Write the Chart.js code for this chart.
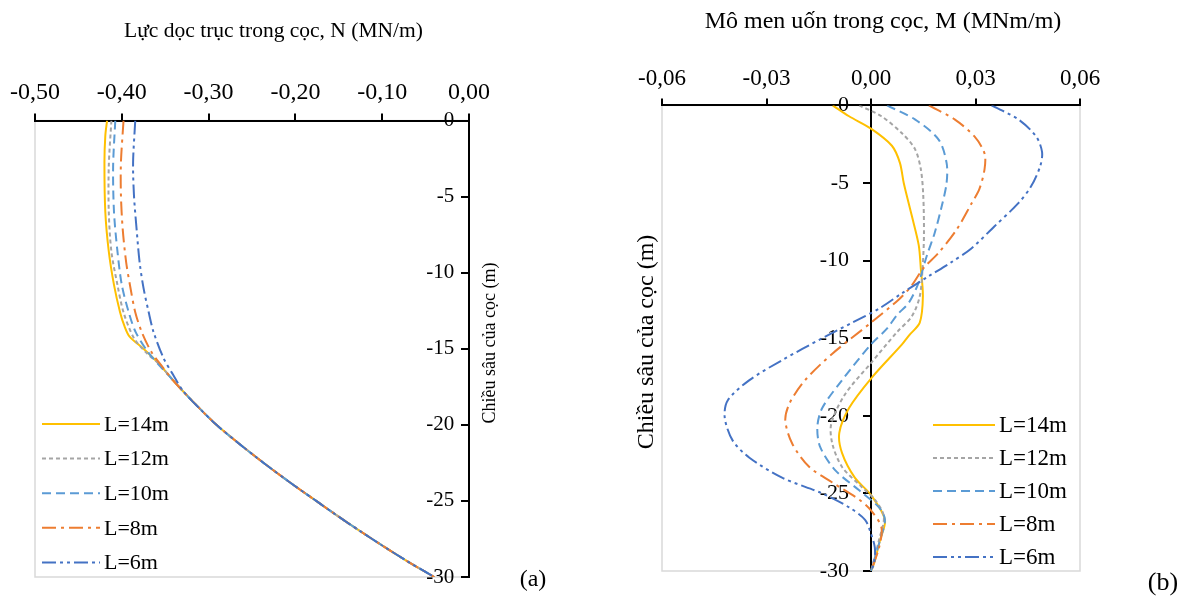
<!DOCTYPE html>
<html><head><meta charset="utf-8">
<script src="https://cdn.jsdelivr.net/npm/chart.js@4.4.0/dist/chart.umd.min.js"></script>
<style>
html,body{margin:0;padding:0;background:#fff;}
#wrap{position:relative;width:1186px;height:597px;overflow:hidden;}
#c1{position:absolute;left:0;top:0;}
#c2{position:absolute;left:593px;top:0;}
</style></head><body>
<div id="wrap"><canvas id="c1" width="593" height="597"></canvas><canvas id="c2" width="593" height="597"></canvas></div>
<script>
// ---------- labels ----------
const seriesLabels = ['L=14m', 'L=12m', 'L=10m', 'L=8m', 'L=6m'];
const titleN = 'Lực dọc trục trong cọc, N (MN/m)';
const titleM = 'Mô men uốn trong cọc, M (MNm/m)';
const titleDepth = 'Chiều sâu của cọc (m)';
const depthTicks = [0, -5, -10, -15, -20, -25, -30];
const nTicks = [-0.5, -0.4, -0.3, -0.2, -0.1, 0];
const mTicks = [-0.06, -0.03, 0, 0.03, 0.06];

// ---------- (a) axial force N: common lower part ----------
const nTailDepth = [-16, -17, -18, -19, -20, -21, -22, -23, -24, -25, -26, -27, -28, -29, -30];
const nTailValue = [-0.357, -0.342, -0.326, -0.309, -0.291, -0.270, -0.248, -0.225, -0.201, -0.176, -0.151, -0.125, -0.098, -0.070, -0.040];

const nDepth14 = [0, -1, -2.75, -6, -8.6, -10.8, -12.6, -13.5, -14.2, -15];
const nValue14 = [-0.417, -0.419, -0.420, -0.419, -0.415, -0.409, -0.402, -0.397, -0.391, -0.375];
const nDepth12 = [0, -3, -6, -8.6, -10.8, -12.6, -14.3, -15.3];
const nValue12 = [-0.412, -0.415, -0.415, -0.412, -0.405, -0.398, -0.386, -0.371];
const nDepth10 = [0, -3, -6, -8.6, -10.8, -12.6, -13.9, -15.2, -16.2];
const nValue10 = [-0.4075, -0.410, -0.409, -0.405, -0.400, -0.392, -0.384, -0.370, -0.355];
const nDepth8 = [0, -2.75, -4.9, -7.1, -9.3, -11, -12.6, -13.9, -15.2, -16.2];
const nValue8 = [-0.398, -0.401, -0.401, -0.399, -0.395, -0.390, -0.3845, -0.377, -0.366, -0.353];
const nDepth6 = [0, -2.75, -4.9, -7.1, -9.3, -11, -12.6, -13.9, -15.6, -16.6, -17.8];
const nValue6 = [-0.3845, -0.387, -0.386, -0.383, -0.3795, -0.375, -0.369, -0.3634, -0.352, -0.342, -0.329];

// ---------- (b) bending moment M ----------
const mDepth14 = [0, -0.7, -1.5, -2.6, -3.7, -5, -7.1, -9, -10.5, -12.3, -14, -14.8, -15.4, -17.6, -19.5, -21.1, -22.4, -24, -25.1, -26.7, -28, -29.5, -30];
const mValue14 = [-0.011, -0.0063, 0, 0.006, 0.0083, 0.0094, 0.0117, 0.0137, 0.0143, 0.0149, 0.014, 0.011, 0.0089, 0, -0.0063, -0.0091, -0.0083, -0.0046, 0, 0.004, 0.0026, 0.0009, 0];
const mDepth12 = [0, -0.7, -1.8, -2.8, -4.1, -5.8, -8.4, -10.5, -12.3, -13.6, -14.6, -16.6, -18.6, -20.5, -21.8, -23.3, -24.6, -25.4, -26.5, -28, -29.5, -30];
const mValue12 = [-0.0034, 0.003, 0.0089, 0.0126, 0.0143, 0.015, 0.0152, 0.0148, 0.014, 0.0117, 0.0075, 0, -0.0074, -0.0114, -0.0111, -0.0083, -0.0026, 0.0011, 0.0037, 0.0023, 0.0006, 0];
const mDepth10 = [0, -0.9, -2.2, -3.7, -5, -6.5, -8.2, -9.7, -11.4, -12.7, -13.5, -14.4, -15.4, -17.7, -19.5, -20.7, -22, -23.5, -24.8, -25.9, -26.7, -28, -29.3, -30];
const mValue10 = [0.0046, 0.0126, 0.0194, 0.0217, 0.0217, 0.0203, 0.0183, 0.016, 0.0137, 0.0109, 0.0075, 0.0045, 0, -0.0083, -0.014, -0.0154, -0.0146, -0.0103, -0.0034, 0.0023, 0.004, 0.0026, 0.0009, 0];
const mDepth8 = [0, -0.9, -2, -3.1, -4.1, -5.4, -6.3, -8, -9.5, -10.5, -11.6, -12.5, -14, -16, -17.7, -19.2, -20.3, -21.8, -23.3, -24.3, -25.4, -26.1, -27.2, -28.5, -30];
const mValue8 = [0.0166, 0.024, 0.0297, 0.0326, 0.0326, 0.0311, 0.0289, 0.0246, 0.0194, 0.015, 0.0117, 0.008, 0, -0.0111, -0.0189, -0.0234, -0.0246, -0.0226, -0.0177, -0.0111, -0.0034, 0, 0.003, 0.0023, 0];
const mDepth6 = [0, -0.9, -2, -3, -3.9, -5.2, -6.3, -7.8, -9.2, -10.1, -11, -12.1, -13.1, -14, -15, -16.4, -17.7, -19, -20.1, -21.6, -22.7, -24, -25, -25.9, -26.7, -27.6, -28.5, -29.5, -30];
const mValue6 = [0.0346, 0.0423, 0.0474, 0.0491, 0.0486, 0.046, 0.0423, 0.0354, 0.0289, 0.0231, 0.0166, 0.0089, 0.0023, -0.0054, -0.014, -0.0254, -0.0349, -0.0411, -0.042, -0.0397, -0.0349, -0.0254, -0.014, -0.0063, -0.0017, 0, 0.0011, 0.0009, 0];

// ---------- styles ----------
const colors = ['#FFC000', '#A5A5A5', '#5B9BD5', '#ED7D31', '#4472C4'];
const dashes = [[], [4, 3], [9, 5], [14, 5, 3, 5], [14, 4, 3, 4, 3, 4]];
const FONT = "'Liberation Serif', 'Times New Roman', serif";

function pts(xs, ys) { return xs.map((x, i) => ({ x: x, y: ys[i] })); }
function withTail(head, headVal, fromDepth) {
  const i = nTailDepth.indexOf(fromDepth);
  return [head.concat(nTailDepth.slice(i)), headVal.concat(nTailValue.slice(i))];
}
function mkSets(list) {
  return list.map((s, i) => ({
    label: seriesLabels[i], data: pts(s[1], s[0]), borderColor: colors[i], backgroundColor: colors[i],
    borderDash: dashes[i], borderWidth: 2, pointRadius: 0, showLine: true, tension: 0.3, fill: false,
    order: 5 - i
  }));
}

const decoPlugin = {
  id: 'deco',
  beforeDraw(chart, args, o) {
    const a = chart.chartArea, ctx = chart.ctx;
    ctx.save();
    ctx.strokeStyle = '#D9D9D9'; ctx.lineWidth = 1.5;
    ctx.strokeRect(a.left, a.top, a.right - a.left, a.bottom - a.top);
    ctx.restore();
  },
  afterDraw(chart, args, o) {
    const ctx = chart.ctx;
    ctx.save();
    // legend
    chart.data.datasets.forEach((ds, i) => {
      const y = o.legY + i * o.legGap;
      ctx.strokeStyle = ds.borderColor; ctx.lineWidth = 2; ctx.setLineDash(ds.borderDash);
      ctx.beginPath(); ctx.moveTo(o.legX0, y); ctx.lineTo(o.legX1, y); ctx.stroke();
      ctx.setLineDash([]);
      ctx.fillStyle = '#000'; ctx.font = o.legFont + 'px ' + FONT;
      ctx.textAlign = 'left'; ctx.textBaseline = 'middle';
      ctx.fillText(ds.label, o.legX1 + 4, y + 1);
    });
    // y title
    ctx.translate(o.ytX, o.ytY); ctx.rotate(-Math.PI / 2);
    ctx.fillStyle = '#000'; ctx.font = o.ytFont + 'px ' + FONT; ctx.textAlign = 'center'; ctx.textBaseline = 'middle';
    ctx.fillText(titleDepth, 0, 0);
    ctx.setTransform(1, 0, 0, 1, 0, 0);
    // panel label
    ctx.font = o.pFont + 'px ' + FONT; ctx.textAlign = 'center'; ctx.textBaseline = 'middle';
    ctx.fillText(o.pText, o.pX, o.pY);
    ctx.restore();
  }
};

function axisX(min, max, step, size, title, tsize, tpad) {
  return {
    type: 'linear', position: 'top', min: min, max: max,
    ticks: { stepSize: step, color: '#000', font: { family: FONT, size: size }, padding: 6, maxRotation: 0, autoSkip: false,
      callback: v => (Math.abs(v) < 1e-9 ? 0 : v).toFixed(2).replace('.', ',') },
    grid: { drawOnChartArea: false, drawTicks: true, tickLength: 7, color: '#000', lineWidth: 2 },
    border: { color: '#000', width: 2 },
    title: { display: true, text: title, color: '#000', font: { family: FONT, size: tsize }, padding: { top: 0, bottom: tpad } }
  };
}
function axisY(size, gap) {
  return {
    type: 'linear', position: { x: 0 }, min: -30, max: 0,
    ticks: { stepSize: 5, color: '#000', font: { family: FONT, size: size }, padding: 6, autoSkip: false,
      callback: v => String(v) + gap },
    grid: { drawOnChartArea: false, drawTicks: true, tickLength: 7, color: '#000', lineWidth: 2 },
    border: { color: '#000', width: 2 }
  };
}

const nSets = [withTail(nDepth14, nValue14, -16), withTail(nDepth12, nValue12, -16), withTail(nDepth10, nValue10, -17),
  withTail(nDepth8, nValue8, -17), withTail(nDepth6, nValue6, -19)];
const mSets = [[mDepth14, mValue14], [mDepth12, mValue12], [mDepth10, mValue10], [mDepth8, mValue8], [mDepth6, mValue6]];

new Chart(document.getElementById('c1'), {
  type: 'scatter',
  data: { datasets: mkSets(nSets) },
  options: {
    responsive: false, animation: false, events: [],
    layout: { padding: { left: 35, right: 124, top: 18, bottom: 20 } },
    plugins: { legend: { display: false }, tooltip: { enabled: false },
      deco: { legY: 424, legGap: 34.6, legX0: 42, legX1: 100, legFont: 22, ytX: 490, ytY: 343, ytFont: 18, pText: '(a)', pX: 533, pY: 580, pFont: 24 } },
    scales: { x: axisX(-0.5, 0, 0.1, 24, '\u2003\u2003' + titleN, 21.5, 29), y: axisY(21, '\u2002\u2009') }
  },
  plugins: [decoPlugin]
});

new Chart(document.getElementById('c2'), {
  type: 'scatter',
  data: { datasets: mkSets(mSets) },
  options: {
    responsive: false, animation: false, events: [],
    layout: { padding: { left: 69, right: 106, top: 7, bottom: 26 } },
    plugins: { legend: { display: false }, tooltip: { enabled: false },
      deco: { legY: 425, legGap: 33, legX0: 340, legX1: 402, legFont: 23, ytX: 54, ytY: 342, ytFont: 24, pText: '(b)', pX: 570, pY: 583, pFont: 26 } },
    scales: { x: axisX(-0.06, 0.06, 0.03, 23, '\u2003' + titleM, 24, 23), y: axisY(22, '\u2002\u2002') }
  },
  plugins: [decoPlugin]
});
</script>
</body></html>
